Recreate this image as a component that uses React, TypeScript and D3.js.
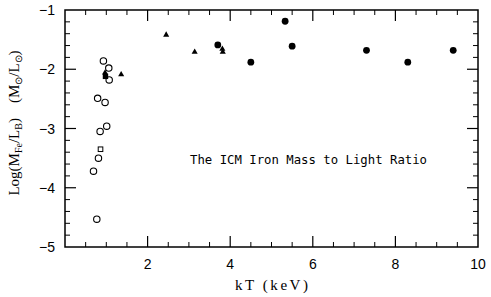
import React from "react";
import * as d3 from "d3";

const openCircles: [number, number][] = [
  [0.93, -1.86], [1.06, -1.98], [1.07, -2.18], [0.79, -2.49], [0.97, -2.56],
  [1.01, -2.96], [0.85, -3.05], [0.81, -3.5], [0.69, -3.72], [0.77, -4.53],
];
const openSquares: [number, number][] = [[0.86, -3.35]];
const filledSquares: [number, number][] = [[0.98, -2.12]];
const triangles: [number, number][] = [
  [0.97, -2.06], [1.36, -2.09], [2.45, -1.42], [3.14, -1.71], [3.81, -1.66], [3.82, -1.71],
];
const filledCircles: [number, number][] = [
  [3.7, -1.59], [4.5, -1.88], [5.33, -1.19], [5.5, -1.61], [7.3, -1.68], [8.3, -1.88], [9.4, -1.68],
];
const xTicks = [2, 4, 6, 8, 10];
const yTicks = [-1, -2, -3, -4, -5];
const title = "The ICM Iron Mass to Light Ratio";

const W = 491, H = 297;
const L = 65, R = 478, T = 10, B = 247;

export default function App() {
  const x = d3.scaleLinear().domain([0, 10]).range([L, R]);
  const y = d3.scaleLinear().domain([-5, -1]).range([B, T]);
  const xMinor = d3.range(0.5, 10, 0.5).filter((v) => Math.abs(v % 2) > 1e-6);
  const xMajor = [2, 4, 6, 8];
  const yMinor = d3.range(-4.8, -1, 0.2).filter((v) => Math.abs(v - Math.round(v)) > 1e-6);
  const yMajor = [-2, -3, -4];
  const tri = d3.symbol().type(d3.symbolTriangle).size(16)();
  const minus = "\u2212";
  const tickFont = "'Liberation Sans', Arial, sans-serif";
  const serif = "'Liberation Serif', 'Times New Roman', serif";
  return (
    <svg width={W} height={H} style={{ position: "absolute", left: 0, top: 0, background: "#fff" }}>
      <rect x={L} y={T} width={R - L} height={B - T} fill="none" stroke="#000" strokeWidth={1.5} />
      {xMinor.map((v) => (
        <g key={"xm" + v}>
          <line x1={x(v)} x2={x(v)} y1={B} y2={B - 5} stroke="#000" strokeWidth={1} />
          <line x1={x(v)} x2={x(v)} y1={T} y2={T + 5} stroke="#000" strokeWidth={1} />
        </g>
      ))}
      {xMajor.map((v) => (
        <g key={"xM" + v}>
          <line x1={x(v)} x2={x(v)} y1={B} y2={B - 11} stroke="#000" strokeWidth={1.2} />
          <line x1={x(v)} x2={x(v)} y1={T} y2={T + 11} stroke="#000" strokeWidth={1.2} />
        </g>
      ))}
      {yMinor.map((v) => (
        <g key={"ym" + v}>
          <line x1={L} x2={L + 5} y1={y(v)} y2={y(v)} stroke="#000" strokeWidth={1} />
          <line x1={R} x2={R - 5} y1={y(v)} y2={y(v)} stroke="#000" strokeWidth={1} />
        </g>
      ))}
      {yMajor.map((v) => (
        <g key={"yM" + v}>
          <line x1={L} x2={L + 11} y1={y(v)} y2={y(v)} stroke="#000" strokeWidth={1.2} />
          <line x1={R} x2={R - 11} y1={y(v)} y2={y(v)} stroke="#000" strokeWidth={1.2} />
        </g>
      ))}
      {xTicks.map((v) => (
        <text key={"xl" + v} x={x(v)} y={269} textAnchor="middle" fontFamily={tickFont} fontSize={14} fill="#000">
          {v}
        </text>
      ))}
      {yTicks.map((v) => (
        <text key={"yl" + v} x={55} y={y(v) + 5} textAnchor="end" fontFamily={tickFont} fontSize={14} fill="#000">
          {minus + Math.abs(v)}
        </text>
      ))}
      <text x={271.5} y={290} textAnchor="middle" fontFamily={serif} fontSize={15} textLength={73} lengthAdjust="spacing" fill="#000">
        kT (keV)
      </text>
      <text
        transform="translate(19,123) rotate(-90)"
        textAnchor="middle"
        fontFamily={serif}
        fontSize={15}
        fill="#000"
      >
        <tspan>Log(M</tspan>
        <tspan dy={3} fontSize={10}>Fe</tspan>
        <tspan dy={-3}>/L</tspan>
        <tspan dy={3} fontSize={10}>B</tspan>
        <tspan dy={-3}>{")\u2002\u2002(M"}</tspan>
        <tspan dy={3} fontSize={10}>⊙</tspan>
        <tspan dy={-3}>/L</tspan>
        <tspan dy={3} fontSize={10}>⊙</tspan>
        <tspan dy={-3}>)</tspan>
      </text>
      <text x={190} y={164} fontFamily="'DejaVu Sans Mono', monospace" fontSize={13} textLength={237} lengthAdjust="spacingAndGlyphs" fill="#000">
        {title}
      </text>
      {openCircles.map(([a, b], i) => (
        <circle key={"oc" + i} cx={x(a)} cy={y(b)} r={3.2} fill="none" stroke="#000" strokeWidth={1.1} />
      ))}
      {openSquares.map(([a, b], i) => (
        <rect key={"os" + i} x={x(a) - 2.3} y={y(b) - 2.3} width={4.6} height={4.6} fill="none" stroke="#000" strokeWidth={1} />
      ))}
      {filledSquares.map(([a, b], i) => (
        <rect key={"fs" + i} x={x(a) - 2.7} y={y(b) - 2.7} width={5.4} height={5.4} fill="#000" />
      ))}
      {triangles.map(([a, b], i) => (
        <path key={"tr" + i} d={tri || ""} transform={`translate(${x(a)},${y(b)})`} fill="#000" />
      ))}
      {filledCircles.map(([a, b], i) => (
        <circle key={"fc" + i} cx={x(a)} cy={y(b)} r={3.4} fill="#000" />
      ))}
    </svg>
  );
}
